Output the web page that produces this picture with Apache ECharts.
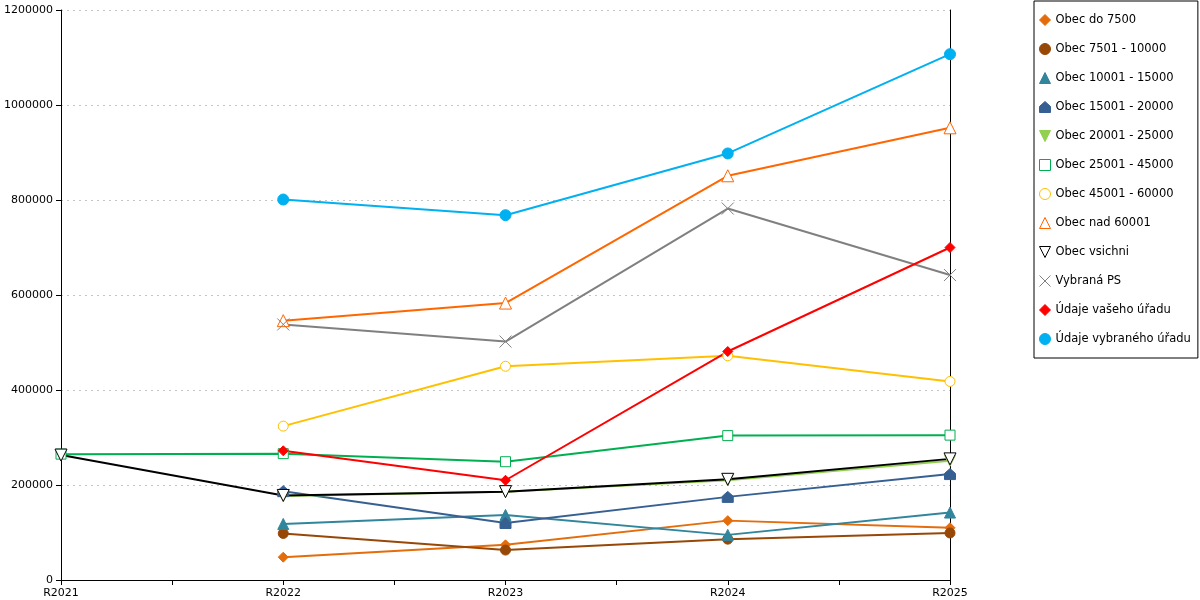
<!DOCTYPE html>
<html>
<head>
<meta charset="UTF-8">
<title>Obce</title>
<script src="https://cdn.jsdelivr.net/npm/echarts@6/dist/echarts.min.js"></script>
<style>
  html, body { margin: 0; padding: 0; background: #fff; }
  #main { width: 1200px; height: 600px; }
</style>
</head>
<body>
<div id="main"></div>
<script type="text/javascript">
// roky na ose x
var categories = ['R2021', 'R2022', 'R2023', 'R2024', 'R2025'];

// hodnoty jednotlivych rad (null = bez udaje)
var obecDo7500      = [null, 48000, 74000, 125000, 110000];
var obec7501_10000  = [null, 98000, 63000, 86000, 99000];
var obec10001_15000 = [null, 118000, 137000, 95000, 142000];
var obec15001_20000 = [null, 187000, 120000, 175000, 223000];
var obec20001_25000 = [null, 177000, 186000, 210000, 251000];
var obec25001_45000 = [265000, 266000, 249000, 304000, 305000];
var obec45001_60000 = [null, 324000, 450000, 472000, 418000];
var obecNad60001    = [null, 546000, 583000, 851000, 952000];
var obecVsichni     = [263000, 178000, 186000, 212000, 255000];
var vybranaPS       = [null, 538000, 502000, 782000, 642000];
var udajeVaseho     = [null, 272000, 210000, 481000, 700000];
var udajeVybraneho  = [null, 801000, 768000, 898000, 1107000];

var names = ['Obec do 7500', 'Obec 7501 - 10000', 'Obec 10001 - 15000', 'Obec 15001 - 20000',
  'Obec 20001 - 25000', 'Obec 25001 - 45000', 'Obec 45001 - 60000', 'Obec nad 60001',
  'Obec vsichni', 'Vybraná PS', 'Údaje vašeho úřadu', 'Údaje vybraného úřadu'];
var values = [obecDo7500, obec7501_10000, obec10001_15000, obec15001_20000, obec20001_25000,
  obec25001_45000, obec45001_60000, obecNad60001, obecVsichni, vybranaPS, udajeVaseho, udajeVybraneho];

// vzhled rad
var invTri = 'path://M0,0 L10,0 L5,10 Z';
var house = 'path://M5,0 L10,4.5 L10,10 L0,10 L0,4.5 Z';
var cross = 'path://M0,0 L10,10 M10,0 L0,10';
var styles = [
  { color: '#e46c0a', symbol: 'diamond', size: 10 },
  { color: '#974806', symbol: 'circle', size: 10 },
  { color: '#31859c', symbol: 'triangle', size: 11 },
  { color: '#376092', symbol: house, size: 11 },
  { color: '#92d050', symbol: invTri, size: 11 },
  { color: '#00b050', symbol: 'rect', size: 10, empty: true },
  { color: '#ffc000', symbol: 'circle', size: 10, empty: true },
  { color: '#ff6600', symbol: 'triangle', size: 12, empty: true },
  { color: '#000000', symbol: invTri, size: 12, empty: true },
  { color: '#808080', symbol: cross, size: 12, cross: true },
  { color: '#ff0000', symbol: 'diamond', size: 10 },
  { color: '#00b0f0', symbol: 'circle', size: 11 }
];

var series = [];
var legendData = [];
for (var i = 0; i < names.length; i++) {
  var st = styles[i];
  var pts = [];
  for (var j = 0; j < categories.length; j++) {
    if (values[i][j] != null) pts.push([j, values[i][j]]);
  }
  var itemStyle;
  if (st.empty) {
    itemStyle = { color: '#ffffff', borderColor: st.color, borderWidth: 1 };
  } else if (st.cross) {
    itemStyle = { color: 'rgba(0,0,0,0)', borderColor: st.color, borderWidth: 1 };
  } else {
    itemStyle = { color: st.color, borderColor: st.color, borderWidth: 1 };
  }
  series.push({
    name: names[i],
    type: 'line',
    data: pts,
    symbol: st.symbol,
    symbolSize: st.size,
    showAllSymbol: true,
    lineStyle: { color: st.color, width: 2 },
    itemStyle: itemStyle,
    emphasis: { disabled: true }
  });
  legendData.push({ name: names[i], icon: st.symbol });
}

var option = {
  animation: false,
  backgroundColor: '#ffffff',
  textStyle: { fontFamily: 'DejaVu Sans' },
  grid: { left: 61, right: 250, top: 10, bottom: 20, outerBoundsMode: 'none' },
  legend: {
    orient: 'vertical',
    left: 1034,
    top: 1,
    data: legendData,
    itemWidth: 11,
    itemHeight: 11,
    itemGap: 17,
    padding: [13, 7, 13, 5],
    borderColor: '#000',
    borderWidth: 1,
    itemStyle: { borderWidth: 1 },
    textStyle: { fontSize: 11.5, color: '#000', fontFamily: 'DejaVu Sans' }
  },
  xAxis: {
    type: 'value',
    min: 0,
    max: categories.length - 1,
    interval: 0.5,
    splitLine: { show: false },
    axisLine: { lineStyle: { color: '#000', width: 1 } },
    axisTick: { show: true, length: 5, lineStyle: { color: '#000' } },
    axisLabel: {
      color: '#000',
      fontSize: 11,
      margin: 8,
      formatter: function (v) {
        return Number.isInteger(v) ? categories[v] : '';
      }
    }
  },
  yAxis: [{
    type: 'value',
    min: 0,
    max: 1200000,
    interval: 200000,
    axisLine: { show: true, lineStyle: { color: '#000', width: 1 } },
    axisTick: { show: true, length: 5, lineStyle: { color: '#000' } },
    axisLabel: { color: '#000', fontSize: 11, margin: 8, formatter: function (v) { return String(v); } },
    splitLine: { show: true, lineStyle: { color: '#c4c4c4', type: [2, 4], width: 1 } }
  }, {
    type: 'value',
    position: 'right',
    min: 0,
    max: 1200000,
    interval: 200000,
    axisLine: { show: true, lineStyle: { color: '#000', width: 1 } },
    axisTick: { show: false },
    axisLabel: { show: false },
    splitLine: { show: false }
  }],
  series: series
};

var chart = echarts.init(document.getElementById('main'));
chart.setOption(option);
</script>
</body>
</html>
